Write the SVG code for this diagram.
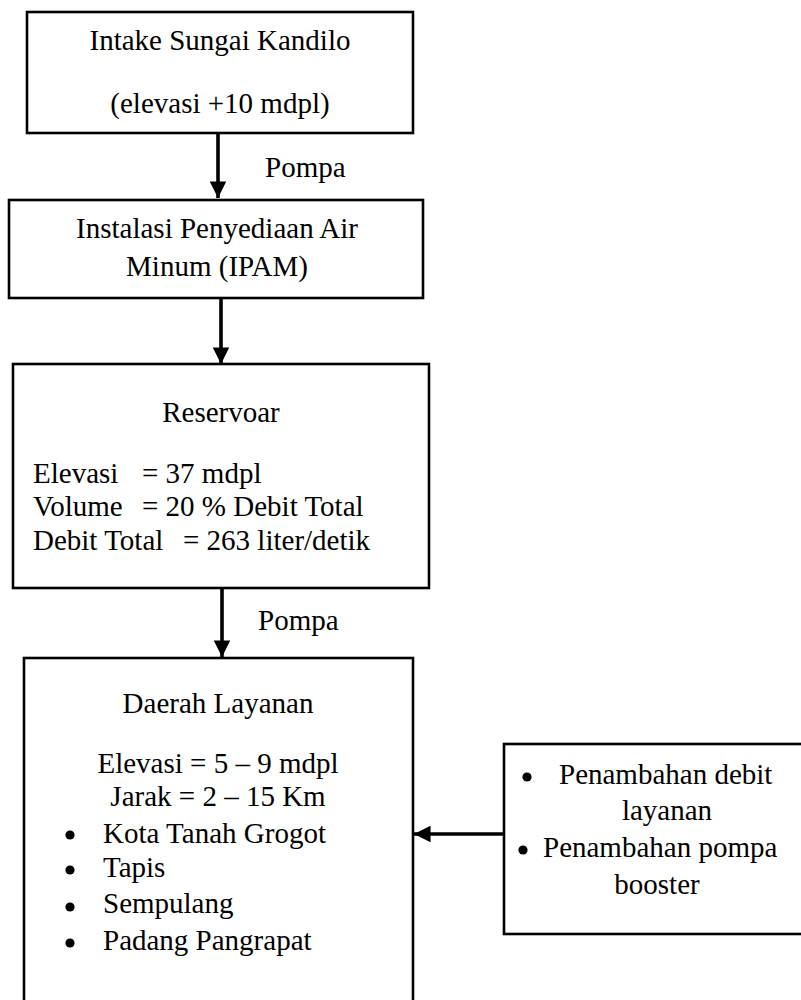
<svg xmlns="http://www.w3.org/2000/svg" width="801" height="1000" viewBox="0 0 801 1000">
<style>
.box{fill:#fff;stroke:#000;stroke-width:2.6}
.t{font-family:"Liberation Serif","Times New Roman",serif;font-size:29px;fill:#000}
.c{text-anchor:middle}
.ln{stroke:#000;stroke-width:3.6;fill:none}
</style>
<defs>
<marker id="ah" markerWidth="4.6" markerHeight="4.6" refX="4.2" refY="2.1" orient="auto" markerUnits="strokeWidth" viewBox="0 0 4.2 4.2">
<path d="M0,0 L4.2,2.1 L0,4.2 Z" fill="#000"/>
</marker>
</defs>
<rect width="801" height="1000" fill="#fff"/>
<g id="intake">
<rect class="box" x="27" y="12" width="386" height="121"/>
<text class="t c" x="220" y="50">Intake Sungai Kandilo</text>
<text class="t c" x="220" y="113">(elevasi +10 mdpl)</text>
</g>
<g id="ipam">
<rect class="box" x="9" y="200" width="414" height="98"/>
<text class="t c" x="217" y="238">Instalasi Penyediaan Air</text>
<text class="t c" x="217" y="276">Minum (IPAM)</text>
</g>
<g id="reservoar">
<rect class="box" x="13" y="364" width="416" height="224"/>
<text class="t c" x="221" y="422">Reservoar</text>
<text class="t" y="483"><tspan x="33">Elevasi</tspan><tspan x="142">= 37 mdpl</tspan></text>
<text class="t" y="516"><tspan x="33">Volume</tspan><tspan x="142">= 20 % Debit Total</tspan></text>
<text class="t" y="550"><tspan x="33">Debit Total</tspan><tspan x="183">= 263 liter/detik</tspan></text>
</g>
<g id="daerah">
<rect class="box" x="24" y="658" width="389" height="360"/>
<text class="t c" x="218" y="713">Daerah Layanan</text>
<text class="t c" x="218" y="773">Elevasi = 5 – 9 mdpl</text>
<text class="t c" x="218" y="806">Jarak = 2 – 15 Km</text>
<circle cx="70" cy="835" r="4.6"/>
<circle cx="70" cy="870" r="4.6"/>
<circle cx="70" cy="907" r="4.6"/>
<circle cx="70" cy="943" r="4.6"/>
<text class="t" x="103" y="843">Kota Tanah Grogot</text>
<text class="t" x="103" y="877">Tapis</text>
<text class="t" x="103" y="913">Sempulang</text>
<text class="t" x="103" y="950">Padang Pangrapat</text>
</g>
<g id="tambahan">
<rect class="box" x="504" y="744" width="310" height="190"/>
<circle cx="527" cy="777" r="4.6"/>
<circle cx="523" cy="850" r="4.6"/>
<text class="t" x="559" y="784">Penambahan debit</text>
<text class="t c" x="667" y="820">layanan</text>
<text class="t" x="543" y="857">Penambahan pompa</text>
<text class="t c" x="657" y="894">booster</text>
</g>
<g id="connectors">
<line class="ln" x1="218" y1="133" x2="218" y2="198" marker-end="url(#ah)"/>
<line class="ln" x1="221" y1="298" x2="221" y2="364" marker-end="url(#ah)"/>
<line class="ln" x1="222" y1="588" x2="222" y2="657" marker-end="url(#ah)"/>
<line class="ln" x1="504" y1="834" x2="414" y2="834" marker-end="url(#ah)"/>
<text class="t" x="265" y="177">Pompa</text>
<text class="t" x="258" y="630">Pompa</text>
</g>
</svg>
